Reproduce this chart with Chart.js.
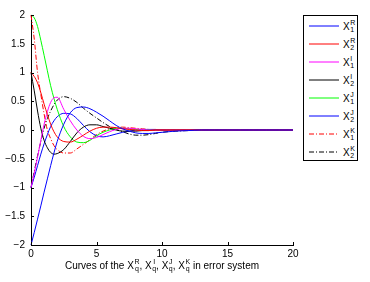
<!DOCTYPE html>
<html>
<head>
<meta charset="utf-8">
<script src="https://cdn.jsdelivr.net/npm/chart.js@4.4.0/dist/chart.umd.min.js"></script>
<style>
  html, body { margin: 0; padding: 0; background: #fff; }
  #wrap { position: relative; width: 370px; height: 282px; font-family: "Liberation Sans", Arial, sans-serif; color: #000; }
  #chart { position: absolute; left: 0; top: 0; }
  #legend { position: absolute; left: 303px; top: 15px; width: 55px; height: 146px; border: 1px solid #000; box-sizing: border-box; background: #fff; }
  .row { position: absolute; left: 0; height: 18px; display: flex; align-items: center; }
  .row svg { margin-left: 5px; }
  .x { font-size: 10px; margin-left: 4px; }
  .ss { display: inline-flex; flex-direction: column; font-size: 7px; line-height: 7px; vertical-align: middle; margin-left: 0.5px; }
  #xtitle { position: absolute; left: 0; top: 259px; width: 324px; text-align: center; font-size: 10px; white-space: nowrap; }
  #xtitle .ss { position: relative; top: -1px; }
</style>
</head>
<body>
<div id="wrap">
  <canvas id="chart" width="370" height="282"></canvas>
  <div id="legend"></div>
  <div id="xtitle"></div>
</div>
<script>
// time samples shared by all curves
const t = [0, 0.25, 0.5, 0.75, 1, 1.25, 1.5, 1.75, 2, 2.5, 3, 3.5, 4, 4.5, 5, 5.5, 6, 6.5, 7, 7.5, 8, 8.5, 9, 9.5, 10,
  11, 12, 13, 14, 15, 16, 17, 18, 19, 20];

const x1R = [-2, -1.78, -1.55, -1.32, -1.08, -0.85, -0.62, -0.4, -0.2, 0.1, 0.3, 0.39, 0.4, 0.37, 0.31, 0.24, 0.16, 0.08,
  0.02, -0.02, -0.05, -0.06, -0.06, -0.05, -0.04, -0.02, -0.01, 0, 0, 0, 0, 0, 0, 0, 0];
const x2R = [1, 0.93, 0.82, 0.65, 0.45, 0.27, 0.1, -0.03, -0.12, -0.2, -0.21, -0.16, -0.09, -0.02, 0.03, 0.05, 0.05, 0.04,
  0.02, 0.01, 0, -0.01, -0.01, 0, 0, 0, 0, 0, 0, 0, 0, 0, 0, 0, 0];
const x1I = [-1, -0.75, -0.47, -0.18, 0.1, 0.32, 0.48, 0.56, 0.57, 0.36, 0.16, 0, -0.11, -0.15, -0.13, -0.08, -0.03, 0.01,
  0.03, 0.03, 0.02, 0.01, 0, 0, 0, 0, 0, 0, 0, 0, 0, 0, 0, 0, 0];
const x2I = [1, 0.68, 0.33, 0.03, -0.18, -0.31, -0.39, -0.42, -0.41, -0.34, -0.2, -0.05, 0.05, 0.09, 0.09, 0.06, 0.03, 0,
  -0.02, -0.02, -0.02, -0.01, -0.01, 0, 0, 0, 0, 0, 0, 0, 0, 0, 0, 0, 0];
const x1J = [2, 1.95, 1.8, 1.56, 1.3, 1.03, 0.77, 0.55, 0.36, 0.06, -0.12, -0.21, -0.22, -0.18, -0.1, -0.04, 0, 0.03,
  0.03, 0.02, 0.01, 0, 0, 0, 0, 0, 0, 0, 0, 0, 0, 0, 0, 0, 0];
const x2J = [-1, -0.82, -0.62, -0.42, -0.24, -0.08, 0.06, 0.16, 0.23, 0.29, 0.28, 0.2, 0.08, -0.03, -0.1, -0.12, -0.1, -0.07,
  -0.04, -0.02, 0, 0.01, 0.01, 0.01, 0, 0, 0, 0, 0, 0, 0, 0, 0, 0, 0];
const x1K = [2, 1.58, 1.0, 0.62, 0.28, 0, -0.15, -0.27, -0.34, -0.4, -0.4, -0.33, -0.25, -0.17, -0.08, -0.02, 0.02, 0.04,
  0.05, 0.04, 0.03, 0.02, 0.01, 0, 0, 0, 0, 0, 0, 0, 0, 0, 0, 0, 0];
const x2K = [-1, -0.72, -0.45, -0.2, 0.03, 0.2, 0.33, 0.44, 0.52, 0.58, 0.55, 0.48, 0.38, 0.29, 0.21, 0.13, 0.06, 0.01,
  -0.03, -0.07, -0.09, -0.09, -0.08, -0.06, -0.04, -0.02, -0.01, 0, 0, 0, 0, 0, 0, 0, 0];

const supers = ["R", "R", "I", "I", "J", "J", "K", "K"];
const subs = ["1", "2", "1", "2", "1", "2", "1", "2"];
const colors = ["#0000ff", "#ff0000", "#ff00ff", "#000000", "#00ff00", "#0000ff", "#ff0000", "#000000"];
const dashes = [[], [], [], [], [], [], [5, 2, 1, 2], [5, 2, 1, 2]];
const series = [x1R, x2R, x1I, x2I, x1J, x2J, x1K, x2K];

const xTicks = [0, 5, 10, 15, 20];
const yTicks = [-2, -1.5, -1, -0.5, 0, 0.5, 1, 1.5, 2];
const titleSupers = ["R", "I", "J", "K"];

const fmt = (v) => (v < 0 ? "\u2212" + Math.abs(v) : String(v));

// small inward tick marks, MATLAB style
const inwardTicks = {
  id: "inwardTicks",
  afterDraw(chart) {
    const ctx = chart.ctx;
    const { left, bottom } = chart.chartArea;
    const xs = chart.scales.x, ys = chart.scales.y;
    ctx.save();
    ctx.strokeStyle = "#000";
    ctx.lineWidth = 1;
    ctx.beginPath();
    yTicks.forEach((v) => {
      const py = Math.round(ys.getPixelForValue(v)) + 0.5;
      ctx.moveTo(left, py);
      ctx.lineTo(left + 3, py);
    });
    xTicks.forEach((v) => {
      const px = Math.round(xs.getPixelForValue(v)) + 0.5;
      ctx.moveTo(px, bottom);
      ctx.lineTo(px, bottom - 3);
    });
    ctx.stroke();
    ctx.restore();
  },
};

const datasets = series.map((vals, i) => ({
  label: "X" + subs[i] + supers[i],
  data: vals.map((v, j) => ({ x: t[j], y: v })),
  borderColor: colors[i],
  borderDash: dashes[i],
  borderWidth: 1,
  pointRadius: 0,
  fill: false,
  cubicInterpolationMode: "monotone",
  clip: 3,
}));

new Chart(document.getElementById("chart").getContext("2d"), {
  type: "line",
  data: { datasets },
  options: {
    responsive: false,
    animation: false,
    layout: { padding: { left: 0, right: 77, top: 15, bottom: 20 } },
    plugins: { legend: { display: false }, tooltip: { enabled: false } },
    scales: {
      x: {
        type: "linear",
        min: 0,
        max: 20,
        afterBuildTicks: (s) => { s.ticks = xTicks.map((v) => ({ value: v })); },
        afterFit: (s) => { s.height = 17; },
        grid: { display: false, drawTicks: false },
        border: { display: true, color: "#000", width: 1 },
        ticks: { color: "#000", padding: 3, maxRotation: 0, font: { family: "Liberation Sans", size: 10 }, callback: fmt },
      },
      y: {
        min: -2,
        max: 2,
        afterBuildTicks: (s) => { s.ticks = yTicks.map((v) => ({ value: v })); },
        afterFit: (s) => { s.width = 31; },
        grid: { display: false, drawTicks: false },
        border: { display: true, color: "#000", width: 1 },
        ticks: { color: "#000", padding: 6, font: { family: "Liberation Sans", size: 10 }, callback: fmt },
      },
    },
  },
  plugins: [inwardTicks],
});

// legend with super/subscripts
const legend = document.getElementById("legend");
series.forEach((_, i) => {
  const row = document.createElement("div");
  row.className = "row";
  row.style.top = (1 + i * 18) + "px";
  const dash = dashes[i].length ? ' stroke-dasharray="' + dashes[i].join(" ") + '"' : "";
  row.innerHTML =
    '<svg width="30" height="4"><line x1="0" y1="2" x2="30" y2="2" stroke="' + colors[i] + '" stroke-width="1"' + dash + '/></svg>' +
    '<span class="x">X</span><span class="ss"><span>' + supers[i] + "</span><span>" + subs[i] + "</span></span>";
  legend.appendChild(row);
});

// x-axis caption
const parts = titleSupers.map((s) => 'X<span class="ss"><span>' + s + "</span><span>q</span></span>");
document.getElementById("xtitle").innerHTML = "Curves of the " + parts.join(", ") + " in error system";
</script>
</body>
</html>
